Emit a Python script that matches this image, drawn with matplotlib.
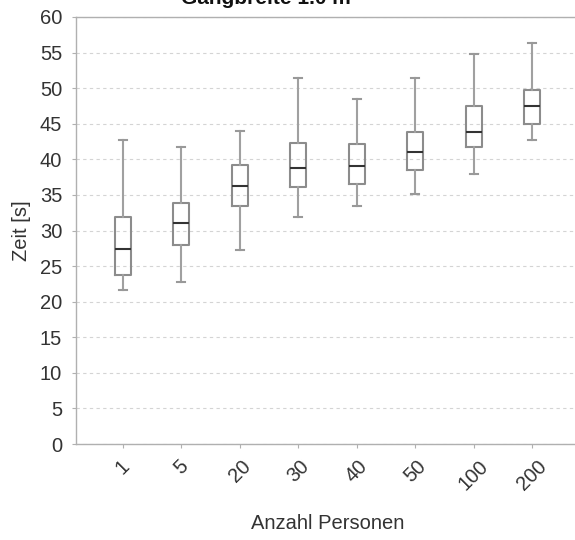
#IMPORT NECESSARY LIBRARIES
import matplotlib
matplotlib.use("Agg")
import matplotlib.pyplot as plt

plt.rcParams['font.family'] = ['Liberation Sans', 'DejaVu Sans']

#DATA
groups = ["1", "5", "20", "30", "40", "50", "100", "200"]
whislo = [21.6, 22.8, 27.2, 31.9, 33.5, 35.1, 38.0, 42.7]
q1 = [23.8, 28.0, 33.5, 36.1, 36.6, 38.5, 41.8, 44.9]
med = [27.4, 31.1, 36.3, 38.8, 39.1, 41.1, 43.9, 47.5]
q3 = [31.9, 33.9, 39.2, 42.3, 42.2, 43.8, 47.5, 49.8]
whishi = [42.7, 41.7, 44.0, 51.4, 48.5, 51.4, 54.8, 56.4]

stats = []
for i in range(len(groups)):
    stats.append({"label": groups[i], "whislo": whislo[i], "q1": q1[i],
                  "med": med[i], "q3": q3[i], "whishi": whishi[i], "fliers": []})

#PLOT
fig = plt.figure(figsize=(5.75, 5.4), dpi=100)
ax = fig.add_axes([76 / 575, 96 / 540, 503 / 575, 427 / 540])

ax.bxp(stats, positions=range(len(groups)), widths=0.27, showfliers=False,
       boxprops=dict(color="#8c8c8c", linewidth=1.5),
       whiskerprops=dict(color="#a0a0a0", linewidth=1.5),
       capprops=dict(color="#999999", linewidth=1.5),
       medianprops=dict(color="#333333", linewidth=1.5),
       capwidths=0.14)

ax.set_xlim(-0.8, len(groups) - 1 + 0.8)
ax.set_ylim(0, 60)
ax.set_yticks(range(0, 61, 5))
ax.yaxis.grid(True, linestyle=(0, (3, 3)), color="#d4d4d4", linewidth=0.8)
ax.set_axisbelow(True)

for s in ax.spines.values():
    s.set_color("#b0b0b0")
    s.set_linewidth(1.0)

ax.tick_params(axis="both", colors="#b0b0b0", labelcolor="#333333",
               labelsize=14.5, length=3)
ax.tick_params(axis="y", pad=7)
ax.tick_params(axis="x", pad=6)
ax.set_xticks(range(len(groups)))
ax.set_xticklabels(groups, rotation=45, ha="center")

ax.set_xlabel("Anzahl Personen", fontsize=14.5, color="#333333", labelpad=15)
ax.set_ylabel("Zeit [s]", fontsize=14.5, color="#333333", labelpad=6)

fig.text(266 / 575, 1 - 4 / 540, "Gangbreite 1.0 m", ha="center", va="baseline",
         fontsize=15, fontweight="bold", color="#111111")

fig.savefig("out.png", dpi=100)
